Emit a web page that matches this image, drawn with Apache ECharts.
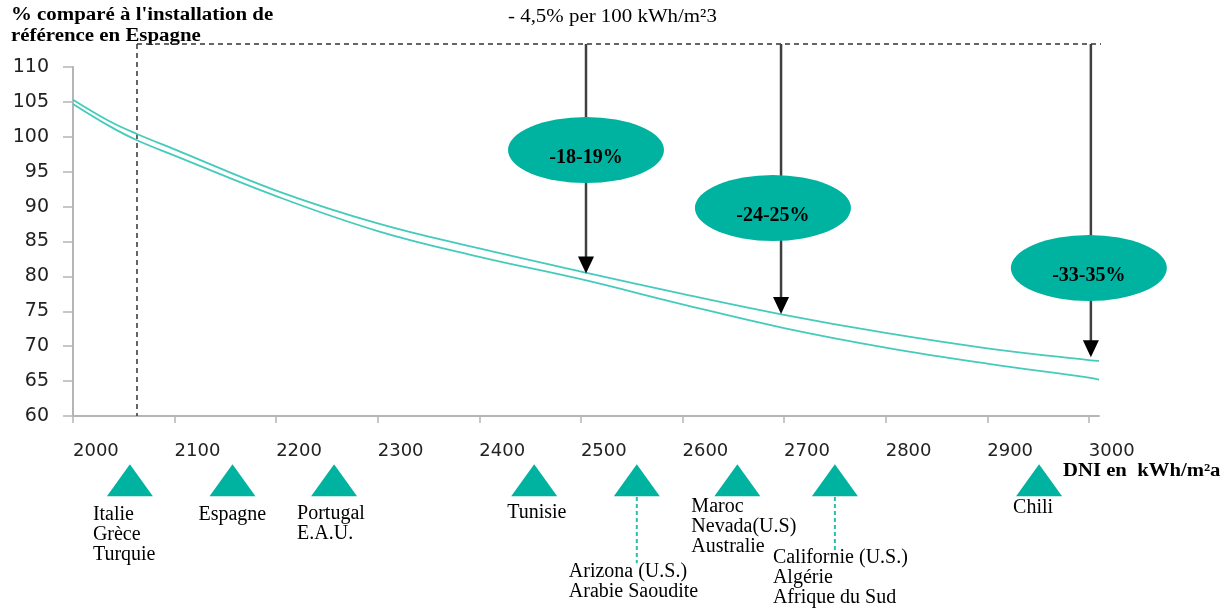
<!DOCTYPE html>
<html>
<head>
<meta charset="utf-8">
<script src="https://cdn.jsdelivr.net/npm/echarts@6/dist/echarts.min.js"></script>
<style>
    html, body { margin: 0; padding: 0; background: #fff; }
    #chart { width: 1231px; height: 608px; }
</style>
</head>
<body>
<div id="chart"></div>
<script>
    // DNI (kWh/m²a) and the two curves, % of the Spanish reference plant
    const dni = [2000, 2035, 2063, 2100, 2200, 2300, 2400, 2500, 2600, 2700, 2800, 2900, 3000, 3010];
    const upper = [105.3, 102.3, 100.4, 98.2, 92.3, 87.6, 84.0, 80.7, 77.5, 74.5, 71.9, 69.7, 68.0, 67.9];
    const lower = [104.7, 101.6, 99.5, 97.3, 91.5, 86.5, 82.8, 79.6, 76.0, 72.6, 69.8, 67.5, 65.5, 65.2];

    const xTicks = [2000, 2100, 2200, 2300, 2400, 2500, 2600, 2700, 2800, 2900, 3000];

    // reference line (Spain) and the arrows down to the upper curve
    const refDni = 2063;
    const arrowDni = [2505, 2697, 3002];
    const arrowTip = [80.5, 74.7, 68.5];
    const bubbleDni = [2505, 2689, 3000];
    const bubbleVal = [98.1, 89.8, 81.2];
    const bubbleText = ['-18-19%', '-24-25%', '-33-35%'];

    // sites under the axis
    const siteDni = [2056, 2157, 2257, 2454, 2555, 2654, 2750, 2951];
    const siteNames = [
        'Italie\nGrèce\nTurquie',
        'Espagne',
        'Portugal\nE.A.U.',
        'Tunisie',
        'Arizona (U.S.)\nArabie Saoudite',
        'Maroc\nNevada(U.S)\nAustralie',
        'Californie (U.S.)\nAlgérie\nAfrique du Sud',
        'Chili'
    ];

    // layout only
    const topLine = 113.3;
    const siteRow = 50.8;
    const siteLabelPos = [[-14, 41], [-11, 41], [-14, 40], [-4, 39], [-45, 98], [-23, 33], [-39, 84], [-3, 34]];

    const serif = '"Liberation Serif", "Times New Roman", serif';
    const sans = '"DejaVu Sans", Verdana, sans-serif';
    const teal = '#00b3a1';
    const curveColor = '#45cbbb';
    const axisGray = '#b5b5b5';

    // segments: x1, y1, x2, y2, style
    const segStyles = {
        dash: {stroke: '#333', lineWidth: 1.5, lineDash: [5, 4]},
        shaft: {stroke: '#404040', lineWidth: 2.5},
        link: {stroke: '#2bbfae', lineWidth: 2, lineDash: [4, 3]}
    };
    let segments = [
        [refDni, topLine, refDni, 60, 'dash'],
        [refDni, topLine, 3012, topLine, 'dash'],
        [siteDni[4], 48.4, siteDni[4], 38.9, 'link'],
        [siteDni[6], 48.4, siteDni[6], 40.6, 'link']
    ];
    arrowDni.forEach((x, i) => segments.push([x, topLine, x, arrowTip[i] + 1, 'shaft']));

    let myChart = echarts.init(document.getElementById('chart'));

    let option = {
        animation: false,
        grid: {left: 73, right: 132, top: 67, bottom: 192},
        xAxis: {
            type: 'value',
            min: 2000,
            max: 3010,
            interval: 100,
            axisLine: {lineStyle: {color: axisGray, width: 2}},
            axisTick: {customValues: xTicks, length: 7, lineStyle: {color: axisGray, width: 1.5}},
            axisLabel: {
                customValues: xTicks,
                formatter: v => String(v),
                align: 'left',
                margin: 26,
                color: '#222',
                fontSize: 18,
                fontFamily: sans
            },
            splitLine: {show: false}
        },
        yAxis: {
            type: 'value',
            min: 60,
            max: 110,
            interval: 5,
            axisLine: {show: true, lineStyle: {color: axisGray, width: 2}},
            axisTick: {show: true, length: 10, lineStyle: {color: axisGray, width: 1.5}},
            axisLabel: {margin: 24, color: '#222', fontSize: 19, fontFamily: sans},
            splitLine: {show: false}
        },
        series: [
            {
                name: 'haut',
                type: 'line',
                smooth: 0.4,
                symbol: 'none',
                lineStyle: {color: curveColor, width: 1.8},
                data: dni.map((x, i) => [x, upper[i]]),
                z: 3
            },
            {
                name: 'bas',
                type: 'line',
                smooth: 0.4,
                symbol: 'none',
                lineStyle: {color: curveColor, width: 1.8},
                data: dni.map((x, i) => [x, lower[i]]),
                z: 3
            },
            {
                // dashed reference lines, arrow shafts, site links
                type: 'custom',
                silent: true,
                clip: false,
                z: 2,
                encode: {x: [0, 2], y: [1, 3]},
                data: segments.map(s => s.slice(0, 4)),
                renderItem: (params, api) => {
                    let s = segments[params.dataIndex];
                    let p1 = api.coord([s[0], s[1]]);
                    let p2 = api.coord([s[2], s[3]]);
                    return {
                        type: 'line',
                        shape: {x1: p1[0], y1: p1[1], x2: p2[0], y2: p2[1]},
                        style: segStyles[s[4]]
                    };
                }
            },
            {
                // arrow heads
                type: 'scatter',
                silent: true,
                symbol: 'triangle',
                symbolRotate: 180,
                symbolSize: [16, 17],
                symbolOffset: [0, -8],
                itemStyle: {color: '#000', opacity: 1},
                data: arrowDni.map((x, i) => [x, arrowTip[i]]),
                z: 4
            },
            {
                // teal bubbles
                type: 'scatter',
                silent: true,
                symbol: 'circle',
                symbolSize: [156, 66],
                clip: false,
                itemStyle: {color: teal, opacity: 1},
                label: {
                    show: true,
                    position: 'inside',
                    offset: [0, 8],
                    formatter: p => bubbleText[p.dataIndex],
                    color: '#000',
                    fontFamily: serif,
                    fontWeight: 'bold',
                    fontSize: 20
                },
                data: bubbleDni.map((x, i) => [x, bubbleVal[i]]),
                z: 5
            },
            {
                // site markers under the axis
                type: 'scatter',
                silent: true,
                symbol: 'triangle',
                symbolSize: [46, 32],
                clip: false,
                itemStyle: {color: teal, opacity: 1},
                data: siteDni.map((x, i) => ({
                    value: [x, siteRow],
                    label: {position: siteLabelPos[i]}
                })),
                label: {
                    show: true,
                    formatter: p => siteNames[p.dataIndex],
                    color: '#000',
                    fontFamily: serif,
                    fontSize: 20,
                    lineHeight: 20
                },
                z: 4
            }
        ],
        graphic: [
            {
                type: 'text',
                x: 11,
                y: 5,
                scaleX: 1.16,
                style: {
                    text: "% comparé à l'installation de\nréférence en Espagne",
                    font: 'bold 18px ' + serif,
                    lineHeight: 21,
                    fill: '#000'
                }
            },
            {
                type: 'text',
                x: 508,
                y: 8,
                scaleX: 1.1,
                style: {
                    text: '- 4,5% per 100 kWh/m²3',
                    font: '19px ' + serif,
                    fill: '#000'
                }
            },
            {
                type: 'text',
                x: 1063,
                y: 462,
                scaleX: 1.15,
                style: {
                    text: 'DNI en  kWh/m²a',
                    font: 'bold 18px ' + serif,
                    fill: '#000'
                }
            }
        ]
    };

    myChart.setOption(option);
</script>
</body>
</html>
